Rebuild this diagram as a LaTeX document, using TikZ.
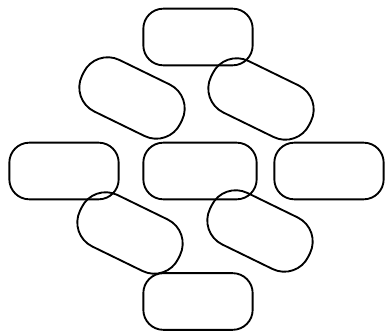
\documentclass[tikz,border=0pt]{standalone}
\usepackage{tikz}

\begin{document}
\begin{tikzpicture}[x=0.75pt,y=0.75pt,
  pill/.style={draw,line width=1.4pt,inner sep=0pt,minimum width=82pt,minimum height=42.5pt,rounded corners=15pt},
  tiltpill/.style={pill,rotate=-26,minimum height=43pt,rounded corners=20pt}]
\node[pill] (top) at (198,298) {};
\node[pill] (midleft) at (64,164) {};
\node[pill,minimum width=85pt] (midcenter) at (200,164) {};
\node[pill] (midright) at (329,164) {};
\node[pill] (bottom) at (198,33.5) {};
\node[tiltpill] (upleft) at (132,237) {};
\node[tiltpill] (upright) at (261,236) {};
\node[tiltpill] (lowleft) at (130,102) {};
\node[tiltpill] (lowright) at (260,104) {};
\path (0,0) rectangle (386,335);
\end{tikzpicture}
\end{document}
